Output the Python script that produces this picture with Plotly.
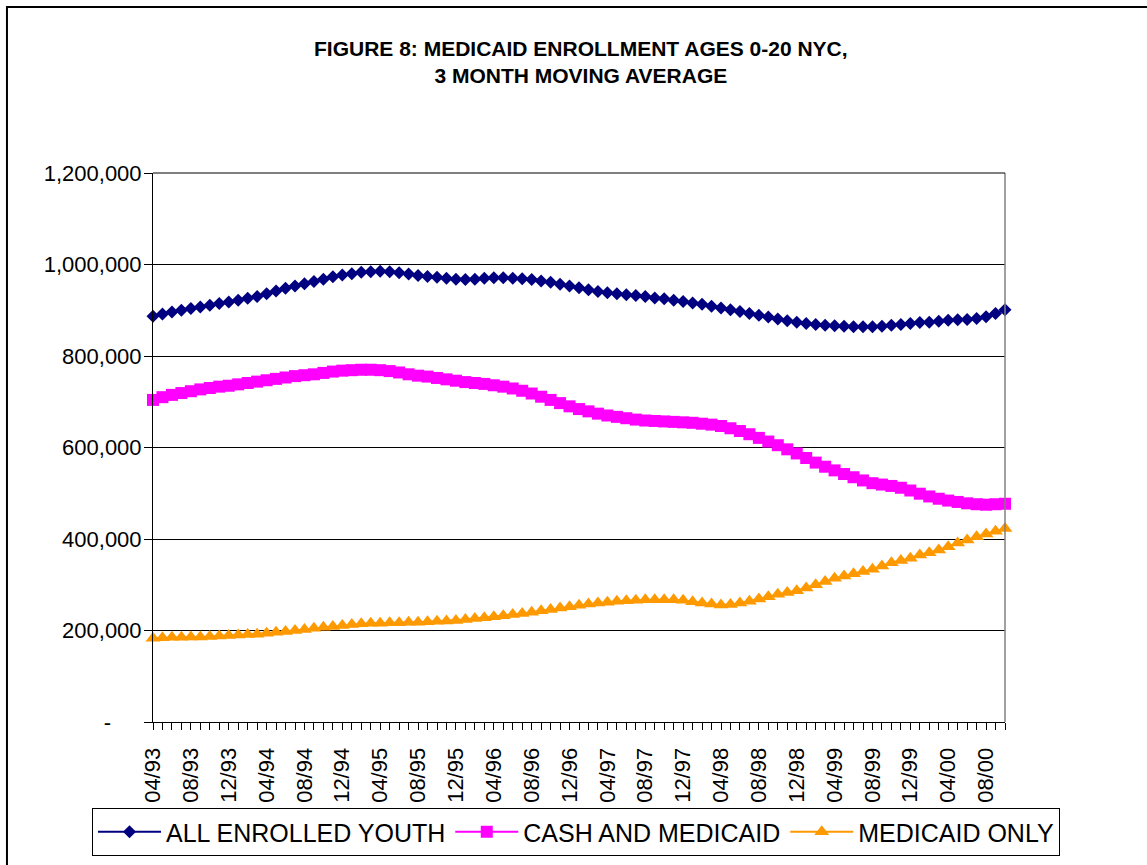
import plotly.graph_objects as go

# Month categories 04/93 .. 10/00
months = []
y, m = 93, 4
for _ in range(91):
    months.append(f"{m:02d}/{y % 100:02d}")
    m += 1
    if m > 12:
        m = 1
        y += 1

# Values in thousands
all_enrolled = [
    887, 892, 896, 900, 904, 907, 911, 915, 918,
    922, 926, 930, 936, 942, 948, 953, 958,
    963, 968, 973, 977, 980, 983, 984, 985,
    984, 982, 979, 976, 974, 972, 970, 968,
    967, 968, 970, 971, 971, 970, 969, 967,
    964, 961, 957, 953, 949, 945, 941, 938,
    936, 934, 932, 930, 927, 925, 922, 919,
    916, 913, 909, 905, 901, 897, 893, 889,
    885, 881, 877, 874, 871, 869, 867, 866,
    865, 864, 864, 864, 865, 867, 869, 871,
    873, 874, 876, 878, 879, 880, 882, 886,
    893, 901,
]
cash_medicaid = [
    704, 710, 715, 719, 723, 727, 730, 733, 735,
    738, 741, 744, 747, 750, 753, 756, 758,
    760, 763, 766, 768, 769, 770, 770, 769,
    767, 764, 760, 757, 755, 752, 749, 746,
    743, 741, 739, 736, 733, 729, 724, 718,
    711, 704, 697, 690, 684, 679, 674, 670,
    667, 664, 661, 659, 658, 657, 656, 655,
    654, 652, 650, 647, 642, 636, 629, 621,
    613, 605, 596, 587, 577, 567, 558, 550,
    542, 535, 528, 522, 519, 516, 512, 506,
    499, 493, 488, 484, 481, 478, 476, 475,
    476, 477,
]
medicaid_only = [
    183, 184, 185, 185, 186, 186, 187, 188, 189,
    190, 191, 192, 194, 196, 198, 200, 202,
    205, 207, 209, 211, 213, 215, 216, 216,
    217, 217, 218, 218, 219, 220, 221, 222,
    224, 226, 228, 230, 232, 235, 237, 240,
    243, 246, 249, 252, 255, 258, 260, 262,
    264, 265, 266, 267, 267, 267, 267, 266,
    263, 260, 258, 256, 257, 260, 264, 269,
    274, 279, 283, 287, 293, 300, 307, 314,
    319, 324, 329, 334, 341, 348, 353, 358,
    365, 370, 376, 383, 391, 398, 405, 411,
    417, 423,
]

series_names = ["ALL ENROLLED YOUTH", "CASH AND MEDICAID", "MEDICAID ONLY"]
y_tickvals = [0, 200000, 400000, 600000, 800000, 1000000, 1200000]
y_ticktext = ["-" + "\u00a0" * 5, "200,000", "400,000", "600,000", "800,000", "1,000,000", "1,200,000"]

FONT = "Liberation Sans, Arial, sans-serif"

fig = go.Figure()
styles = [
    dict(color="#000080", symbol="diamond", size=10),
    dict(color="#FF00FF", symbol="square", size=12),
    dict(color="#FF9900", symbol="triangle-up", size=13),
]
for name, vals, st in zip(series_names, [all_enrolled, cash_medicaid, medicaid_only], styles):
    fig.add_trace(go.Scatter(
        x=months, y=[v * 1000 for v in vals], name=name, mode="lines+markers",
        line=dict(color=st["color"], width=2),
        marker=dict(color=st["color"], symbol=st["symbol"], size=st["size"], line=dict(width=0)),
        cliponaxis=False,
    ))

tick_labels = [lab if i % 4 == 0 else "" for i, lab in enumerate(months)]

fig.update_layout(
    width=1147, height=865,
    margin=dict(l=153, r=142, t=173, b=143, autoexpand=False),
    paper_bgcolor="white", plot_bgcolor="white",
    font=dict(family=FONT, color="black"),
    showlegend=True,
    legend=dict(
        orientation="h", x=-0.0716, y=-0.2004, xanchor="left", yanchor="middle",
        bordercolor="black", borderwidth=1, font=dict(size=25, family=FONT),
        bgcolor="white", itemsizing="trace", itemwidth=63, tracegroupgap=0,
    ),
    xaxis=dict(
        type="category", range=[0, 90], tickmode="array", tickvals=months, ticktext=tick_labels,
        tickangle=-90, ticks="outside", ticklen=7, tickcolor="black", tickwidth=1,
        ticklabelstandoff=9,
        showline=True, linecolor="black", linewidth=1, showgrid=False, automargin=False,
        tickfont=dict(size=22, family=FONT),
    ),
    yaxis=dict(
        range=[0, 1200000], tickmode="array", tickvals=y_tickvals, ticktext=y_ticktext,
        ticks="outside", ticklen=8, tickcolor="black", showline=True, linecolor="black",
        linewidth=1, showgrid=True, gridcolor="black", gridwidth=1, zeroline=False,
        ticklabelstandoff=-2,
        automargin=False, tickfont=dict(size=22, family=FONT),
    ),
    annotations=[dict(
        text="<b>FIGURE 8: MEDICAID ENROLLMENT AGES 0-20 NYC,<br>3 MONTH MOVING AVERAGE</b>",
        xref="paper", yref="paper", x=0.5023, y=1.203, xanchor="center", yanchor="middle",
        showarrow=False, font=dict(size=21, family=FONT),
    )],
    shapes=[
        dict(type="line", xref="paper", yref="paper", x0=1, x1=1, y0=0, y1=1,
             line=dict(color="#808080", width=1.5)),
        dict(type="line", xref="paper", yref="paper", x0=0, x1=1, y0=1, y1=1,
             line=dict(color="black", width=1)),
        dict(type="rect", xref="paper", yref="paper", x0=-0.1714, x1=1.175, y0=-0.275, y1=1.3024,
             line=dict(color="black", width=2), layer="below"),
    ],
)

fig.write_html("out.html", config={"displayModeBar": False},
               post_script="document.body.style.margin='0';")
